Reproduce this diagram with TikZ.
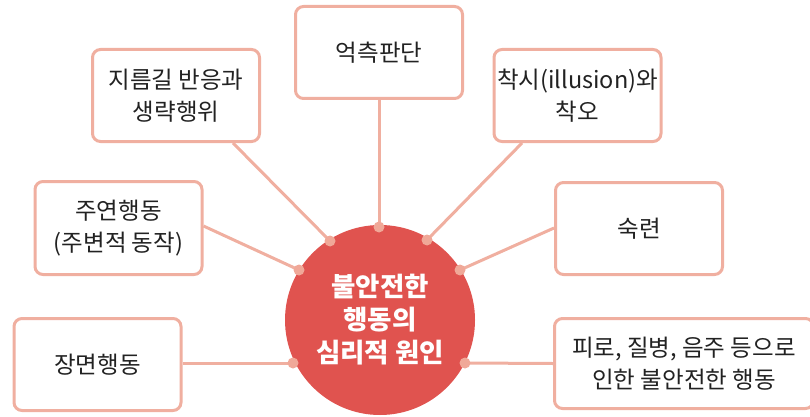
\documentclass[tikz,border=0pt]{standalone}
\usepackage{fontspec}
\usetikzlibrary{backgrounds}
\newfontfamily\kr{Noto Sans CJK KR}
\definecolor{edgec}{HTML}{F0AFA0}
\definecolor{dotc}{HTML}{F0A898}
\definecolor{hubc}{HTML}{E0534F}
\definecolor{inkc}{HTML}{222222}
\begin{document}
\begin{tikzpicture}[x=1pt,y=-1pt,
  box/.style={draw=edgec, line width=3pt, rounded corners=8pt, fill=white,
    minimum width=167pt, minimum height=92pt, align=center, inner sep=0pt,
    text=inkc, font=\kr\fontsize{23.5}{32}\selectfont},
  conn/.style={draw=edgec, line width=3pt},
  hubnode/.style={circle, fill=hubc, minimum size=190pt, inner sep=0pt,
    align=center, text=white, font=\kr\bfseries\fontsize{26.5}{33}\selectfont},
  dotnode/.style={circle, fill=dotc, minimum size=11pt, inner sep=0pt}]
\useasboundingbox (0,0) rectangle (810,417);
\clip (0,0) rectangle (810,417);

\node[box] (b1) at (176,95.5) {지름길 반응과\\생략행위};
\node[box] (b2) at (379,52.5) {억측판단};
\node[box] (b3) at (577.5,95.5) {착시(illusion)와\\착오};
\node[box, minimum height=93pt] (b4) at (118.5,228) {주연행동\\(주변적 동작)};
\node[box] (b5) at (639,228.5) {숙련};
\node[box] (b6) at (97.5,364.5) {장면행동};
\node[box, minimum width=259pt, minimum height=90pt] (b7) at (684,363.5) {피로, 질병, 음주 등으로\\인한 불안전한 행동};

\node[hubnode] (hub) at (380,320) {불안전한\\행동의\\심리적 원인};

\node[dotnode] (d1) at (330,241) {};
\node[dotnode] (d2) at (379,227) {};
\node[dotnode] (d3) at (427,240) {};
\node[dotnode] (d4) at (299,270) {};
\node[dotnode] (d5) at (460,270) {};
\node[dotnode] (d6) at (293,363) {};
\node[dotnode] (d7) at (465,363) {};

\begin{pgfonlayer}{background}
\draw[conn] ([xshift=57pt]b1.south) -- (d1.center);
\draw[conn] (b2.south) -- (d2.center);
\draw[conn] ([xshift=-55.5pt]b3.south) -- (d3.center);
\draw[conn] ([yshift=2pt]b4.east) -- (d4.center);
\draw[conn] ([yshift=0.5pt]b5.west) -- (d5.center);
\draw[conn] ([yshift=1.5pt]b6.east) -- (d6.center);
\draw[conn] (b7.west) -- (d7.center);
\end{pgfonlayer}
\end{tikzpicture}
\end{document}
